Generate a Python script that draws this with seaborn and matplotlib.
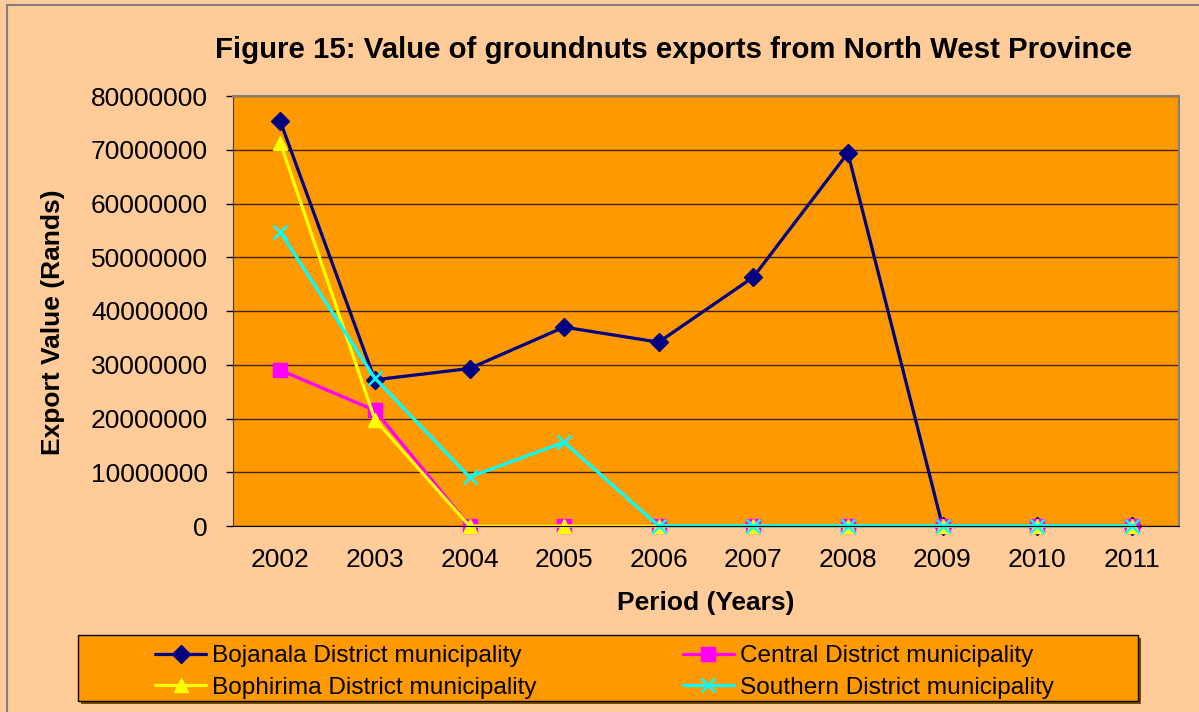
import matplotlib
matplotlib.use("Agg")
import matplotlib.pyplot as plt
import seaborn as sns
import pandas as pd
import numpy as np
from matplotlib.patches import Rectangle

years = ["2002", "2003", "2004", "2005", "2006", "2007", "2008", "2009", "2010", "2011"]
bojanala = [75300000, 27200000, 29300000, 37000000, 34200000, 46300000, 69400000, 0, 0, 0]
central = [29000000, 21500000, 0, 0, 0, 0, 0, 0, 0, 0]
bophirima = [71300000, 19800000, 0, 0, 0, 0, 0, 0, 0, 0]
southern = [54700000, 27500000, 9100000, 15600000, 0, 0, 0, 0, 0, 0]
series_names = ["Bojanala District municipality", "Central District municipality",
                "Bophirima District municipality", "Southern District municipality"]
yticks = [0, 10000000, 20000000, 30000000, 40000000, 50000000, 60000000, 70000000, 80000000]

sns.set_style("white")
plt.rcParams['font.family'] = ['Liberation Sans', 'DejaVu Sans']
plt.rcParams['text.color'] = 'black'
plt.rcParams['xtick.color'] = 'black'
plt.rcParams['ytick.color'] = 'black'

W, H = 1199, 712
fig = plt.figure(figsize=(W / 100, H / 100), dpi=100)
fig.patch.set_facecolor("#FFCC99")
fig.patches.append(Rectangle((7 / W, -0.05), 1.2, 1 - 5 / H + 0.05, transform=fig.transFigure,
                             fill=False, edgecolor="#808080", linewidth=1.5))

ax = fig.add_axes([233 / W, 1 - 526 / H, (1179 - 233) / W, (526 - 96) / H])
ax.set_facecolor("#FF9900")

x = np.arange(len(years))
styles = [
    (bojanala, "#000080", "D", 9),
    (central, "#FF00FF", "s", 10),
    (bophirima, "#FFFF00", "^", 10),
    (southern, "#00FFFF", "x", 10),
]
for (vals, col, mk, ms), name in zip(styles, series_names):
    df = pd.DataFrame({"x": x, "y": vals})
    sns.lineplot(data=df, x="x", y="y", ax=ax, color=col, marker=mk, markersize=ms,
                 markeredgecolor=col, markeredgewidth=1.8 if mk == "x" else 1,
                 linewidth=2.3, label=name, legend=False, clip_on=False)

ax.set_xlim(-0.5, len(years) - 0.5)
ax.set_ylim(0, 80000000)
ax.set_yticks(yticks)
ax.set_yticklabels([str(v) for v in yticks], fontsize=19)
ax.set_xticks(x)
ax.set_xticklabels(years, fontsize=19)
ax.set_xticks(np.arange(-0.5, len(years), 1), minor=True)
ax.tick_params(axis="x", which="major", length=0, pad=16)
ax.tick_params(axis="x", which="minor", length=4.5, width=1, color="black", direction="out")
ax.tick_params(axis="y", which="major", length=5, width=1, color="black", direction="out", pad=13, left=True)
ax.yaxis.grid(True, color="#000000", linewidth=1, alpha=0.75)
ax.set_axisbelow(True)
for s in ["top", "right"]:
    ax.spines[s].set_color("#808080")
    ax.spines[s].set_linewidth(1.5)
ax.spines["left"].set_color("#404040")
ax.spines["bottom"].set_color("#000000")
ax.set_xlabel("")
ax.set_ylabel("")

fig.text(674 / W, 1 - 50 / H, "Figure 15: Value of groundnuts exports from North West Province",
         ha="center", va="center", fontsize=21.2, fontweight="bold")
fig.text(53 / W, 1 - 322 / H, "Export Value (Rands)", rotation=90, ha="center", va="center",
         fontsize=19, fontweight="bold")
fig.text(706 / W, 1 - 603 / H, "Period (Years)", ha="center", va="center",
         fontsize=19, fontweight="bold")

# legend box with shadow
bx0, by0, bx1, by1 = 78, 635, 1138, 701
fig.patches.append(Rectangle(((bx0 + 3) / W, 1 - (by1 + 3) / H), (bx1 - bx0) / W, (by1 - by0) / H,
                             transform=fig.transFigure, facecolor="#7a4a00", edgecolor="none"))
fig.patches.append(Rectangle((bx0 / W, 1 - by1 / H), (bx1 - bx0) / W, (by1 - by0) / H,
                             transform=fig.transFigure, facecolor="#FF9900", edgecolor="#000000",
                             linewidth=1))

handles, labels = ax.get_legend_handles_labels()
order = [0, 2, 1, 3]
leg = fig.legend([handles[i] for i in order], [labels[i] for i in order],
                 loc="center left", bbox_to_anchor=(155 / W, 1 - 672 / H),
                 ncol=2, fontsize=17.6, frameon=False,
                 borderaxespad=0, borderpad=0, handlelength=2.1, handletextpad=0.25,
                 labelspacing=0.4, columnspacing=5.95)
fig.savefig("out.png", dpi=100, facecolor=fig.get_facecolor())
